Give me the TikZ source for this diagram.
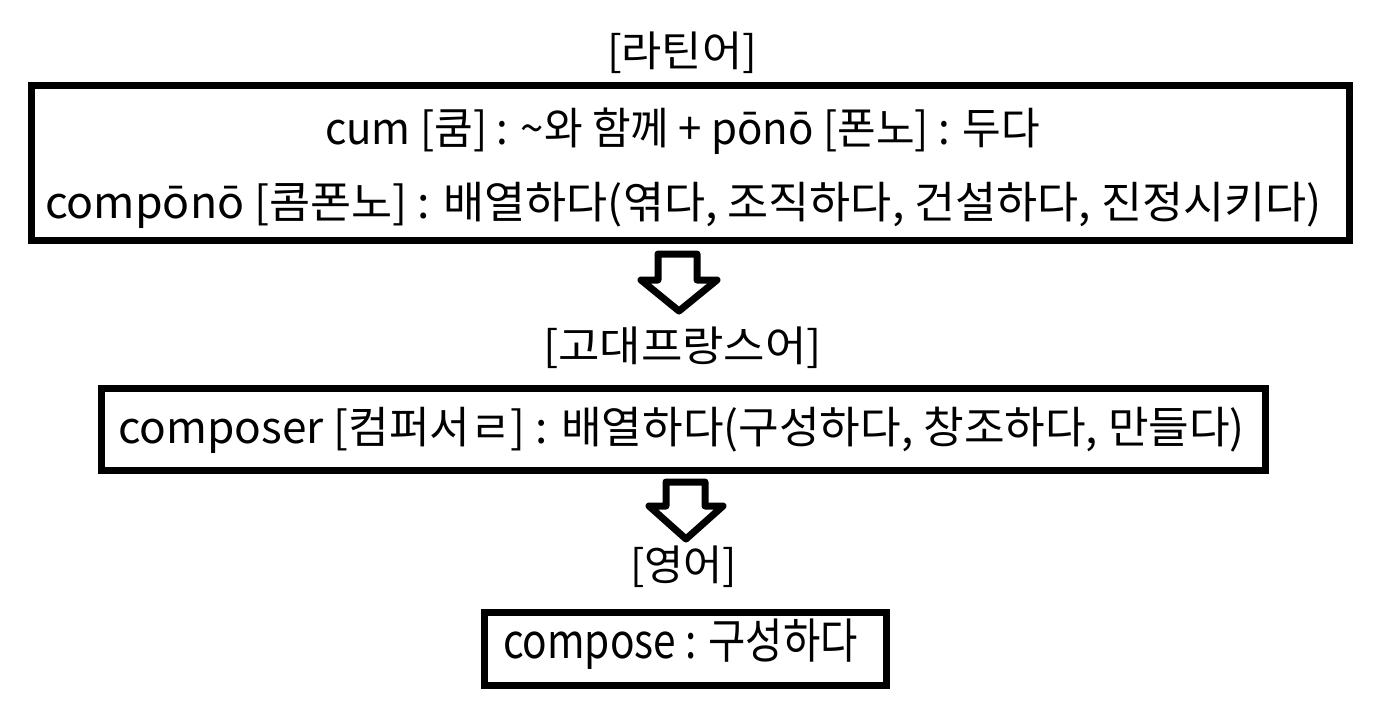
\documentclass[tikz,border=0pt]{standalone}
\usepackage{fontspec}
\setmainfont{Noto Sans CJK KR}
\usepackage{graphicx}
\newcommand{\fitw}[3][1]{\resizebox{#2}{#1\height}{#3}}
\tikzset{
  txt/.style={inner sep=0pt, font=\fontsize{22.7pt}{27pt}\selectfont},
  frame/.style={draw=black, line width=0.14cm, inner sep=0pt},
  blockarrow/.style={draw=black, fill=white, line width=0.14cm, line join=round}
}
\begin{document}
\begin{tikzpicture}[x=0.02cm, y=-0.02cm]
\useasboundingbox[fill=white] (0,0) rectangle (1389,725);
% boxes
\node[frame, minimum width=26.38cm, minimum height=3.11cm] (latinbox) at (690.5,163.25) {};
\node[frame, minimum width=23.30cm, minimum height=1.64cm] (frbox) at (683.5,429) {};
\node[frame, minimum width=8.04cm, minimum height=1.46cm] (enbox) at (685.5,648.5) {};
% labels
\node[txt] (latin) at (682,53) {\fitw[1.05]{3.00cm}{[라틴어]}};
\node[txt] (l1) at (682.5,131) {\fitw[1.1]{14.30cm}{cum [쿰] : \textasciitilde 와 함께 + pōnō [폰노] : 두다}};
\node[txt] (l2) at (683.5,205) {\fitw[1.1]{25.54cm}{compōnō [콤폰노] : 배열하다(엮다, 조직하다, 건설하다, 진정시키다)}};
\node[txt] (oldfr) at (682.5,348) {\fitw[1.05]{5.58cm}{[고대프랑스어]}};
\node[txt] (fr) at (681.5,430) {\fitw[1.1]{22.54cm}{composer [컴퍼서ㄹ] : 배열하다(구성하다, 창조하다, 만들다)}};
\node[txt] (eng) at (683.5,567) {\fitw[1.05]{2.14cm}{[영어]}};
\node[txt] (en) at (680.5,644) {\fitw[1.2]{7.10cm}{compose : 구성하다}};
% block arrows
\draw[blockarrow] (658,254) -- (697,254) -- (697,280) -- (717,280) -- (679,311) -- (641,280) -- (658,280) -- cycle;
\draw[blockarrow] (666,482) -- (705,482) -- (705,506) -- (723,506) -- (686,539) -- (649,506) -- (666,506) -- cycle;
\end{tikzpicture}
\end{document}
